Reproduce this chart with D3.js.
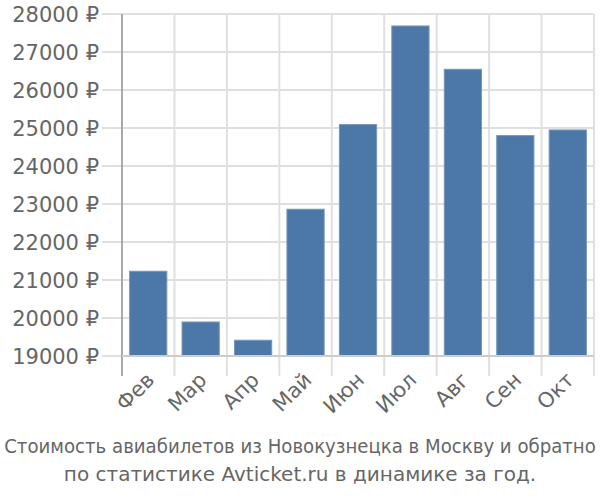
<!DOCTYPE html>
<html>
<head>
<meta charset="utf-8">
<script src="https://cdn.jsdelivr.net/npm/d3@7/dist/d3.min.js"></script>
<style>
  body { margin: 0; background: #fff; }
  svg { display: block; }
</style>
</head>
<body>
<svg id="chart" width="600" height="500"></svg>
<script>
const months = ["Фев", "Мар", "Апр", "Май", "Июн", "Июл", "Авг", "Сен", "Окт"];
const prices = [21230, 19895, 19415, 22862, 25090, 27685, 26545, 24800, 24948];
const yTicks = [19000, 20000, 21000, 22000, 23000, 24000, 25000, 26000, 27000, 28000];
const titleLines = ["Стоимость авиабилетов из Новокузнецка в Москву и обратно", "по статистике Avticket.ru в динамике за год."];

const svg = d3.select("#chart");
const pLeft = 122, pRight = 594, pTop = 14, pBottom = 356;

const x = d3.scaleBand().domain(months).range([pLeft, pRight]).paddingInner(0.29).paddingOuter(0.145);
const xGrid = d3.scaleBand().domain(months).range([pLeft, pRight]);
const y = d3.scaleLinear().domain([19000, 28000]).range([pBottom, pTop]);

const axisFont = "'DejaVu Sans', sans-serif";

svg.append("g").selectAll("line").data(yTicks).join("line")
  .attr("x1", 102).attr("x2", pRight)
  .attr("y1", d => y(d)).attr("y2", d => y(d))
  .attr("stroke", "#e0e0e0").attr("stroke-width", 2);

const bounds = months.map(m => xGrid(m)).concat([pRight]);
svg.append("g").selectAll("line").data(bounds).join("line")
  .attr("x1", d => d).attr("x2", d => d)
  .attr("y1", pTop).attr("y2", 376)
  .attr("stroke", "#e0e0e0").attr("stroke-width", 2);

svg.append("g").selectAll("rect").data(months).join("rect")
  .attr("x", d => x(d))
  .attr("width", x.bandwidth())
  .attr("y", (d, i) => y(prices[i]))
  .attr("height", (d, i) => pBottom - y(prices[i]))
  .attr("fill", "#4c78a8")
  .attr("stroke", "#7895bb").attr("stroke-width", 1);

svg.append("line").attr("x1", pLeft).attr("x2", pLeft).attr("y1", pTop).attr("y2", 376)
  .attr("stroke", "#aaaaaa").attr("stroke-width", 2);
svg.append("line").attr("x1", pLeft).attr("x2", pRight).attr("y1", pBottom).attr("y2", pBottom)
  .attr("stroke", "#cccccc").attr("stroke-width", 2);

svg.append("g").selectAll("text").data(yTicks).join("text")
  .attr("x", 99).attr("y", d => y(d))
  .attr("dy", "0.36em")
  .attr("text-anchor", "end")
  .attr("font-family", axisFont).attr("font-size", 21)
  .attr("fill", "#666")
  .text(d => d + " ₽");

svg.append("g").selectAll("text").data(months).join("text")
  .attr("transform", d => `translate(${x(d) + x.bandwidth() / 2 + 2},${376}) rotate(-45)`)
  .attr("text-anchor", "end")
  .attr("dy", "0.36em")
  .attr("font-family", axisFont).attr("font-size", 21)
  .attr("fill", "#666")
  .text(d => d);

const titles = svg.append("g").selectAll("text").data(titleLines).join("text")
  .attr("x", 0).attr("y", 0)
  .attr("transform", (d, i) => `translate(300,${453 + i * 28})`)
  .attr("text-anchor", "middle")
  .attr("font-family", axisFont).attr("font-size", 20)
  .attr("fill", "#666")
  .text(d => d);
titles.each(function (d, i) {
  const w = this.getComputedTextLength();
  if (w > 592) {
    d3.select(this).attr("transform", `translate(300,${453 + i * 28}) scale(${592 / w},1)`);
  }
});
</script>
</body>
</html>
